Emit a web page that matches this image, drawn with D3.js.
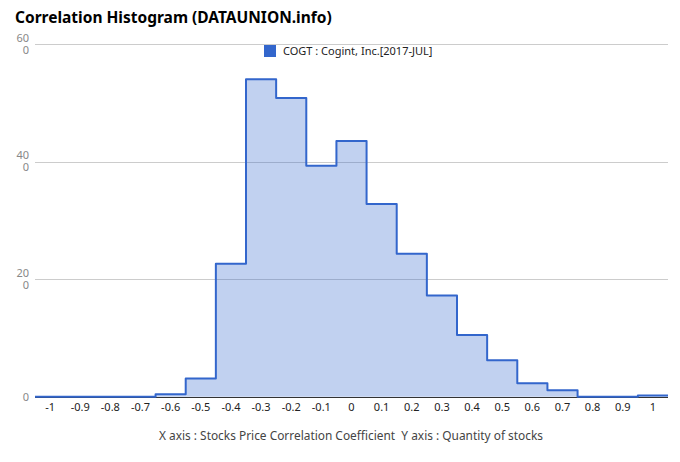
<!DOCTYPE html>
<html>
<head>
<meta charset="utf-8">
<script src="https://cdn.jsdelivr.net/npm/d3@7"></script>
<style>
  html, body { margin: 0; padding: 0; background: #fff; }
  svg { display: block; font-family: "Noto Sans", "Open Sans", Arial, sans-serif; }
</style>
</head>
<body>
<svg id="chart" width="680" height="462"></svg>
<script>
const titleText = "Correlation Histogram (DATAUNION.info)";
const seriesName = "COGT : Cogint, Inc.[2017-JUL]";
const axisTitle = "X axis : Stocks Price Correlation Coefficient  Y axis : Quantity of stocks";
const bins = [-1, -0.9, -0.8, -0.7, -0.6, -0.5, -0.4, -0.3, -0.2, -0.1, 0, 0.1, 0.2, 0.3, 0.4, 0.5, 0.6, 0.7, 0.8, 0.9, 1];
const counts = [0, 0, 0, 0, 4, 31, 226, 540, 508, 393, 435, 328, 243, 172, 105, 62, 23, 11, 0, 0, 2];
const xTickLabels = ["-1", "-0.9", "-0.8", "-0.7", "-0.6", "-0.5", "-0.4", "-0.3", "-0.2", "-0.1", "0", "0.1", "0.2", "0.3", "0.4", "0.5", "0.6", "0.7", "0.8", "0.9", "1"];
const yTicks = [0, 200, 400, 600];

const svg = d3.select("#chart");
const half = 0.05;
const x = d3.scaleLinear().domain([-1 - half, 1 + half]).range([35, 668]);
const y = d3.scaleLinear().domain([0, 600]).range([396.7, 44]);

// title
svg.append("text")
  .attr("x", 15).attr("y", 23)
  .attr("font-size", 15.5).attr("font-weight", "bold").attr("fill", "#000")
  .text(titleText);

// gridlines
svg.append("g").selectAll("line").data(yTicks.filter(d => d > 0)).join("line")
  .attr("x1", x.range()[0]).attr("x2", x.range()[1])
  .attr("y1", d => Math.round(y(d)) + 0.5).attr("y2", d => Math.round(y(d)) + 0.5)
  .attr("stroke", "#cccccc").attr("stroke-width", 1);

// y labels (wrapped like the original)
const yl = svg.append("g").selectAll("text").data(yTicks).join("text")
  .attr("text-anchor", "end").attr("font-size", 11).attr("fill", "#888");
yl.each(function(d) {
  const s = String(d);
  const t = d3.select(this);
  if (s.length > 2) {
    t.append("tspan").attr("x", 29).attr("y", y(d) - 2.5).text(s.slice(0, 2));
    t.append("tspan").attr("x", 29).attr("y", y(d) + 9.5).text(s.slice(2));
  } else {
    t.append("tspan").attr("x", 29).attr("y", y(d) + 4).text(s);
  }
});

// step data
const pts = bins.map((b, i) => [b - half, counts[i]]);
pts.push([bins[bins.length - 1] + half, counts[counts.length - 1]]);

svg.append("path").datum(pts)
  .attr("d", d3.area().curve(d3.curveStepAfter).x(d => x(d[0])).y0(y(0)).y1(d => y(d[1])))
  .attr("fill", "#3366cc").attr("fill-opacity", 0.3);

// baseline axis
svg.append("line")
  .attr("x1", x.range()[0]).attr("x2", x.range()[1])
  .attr("y1", 397.5).attr("y2", 397.5)
  .attr("stroke", "#333").attr("stroke-width", 1);

svg.append("path").datum(pts)
  .attr("d", d3.line().curve(d3.curveStepAfter).x(d => x(d[0])).y(d => y(d[1])))
  .attr("fill", "none").attr("stroke", "#3366cc").attr("stroke-width", 2)
  .attr("stroke-linejoin", "round");

// x tick labels
svg.append("g").selectAll("text").data(bins).join("text")
  .attr("x", d => x(d)).attr("y", 411)
  .attr("text-anchor", "middle").attr("font-size", 11).attr("fill", "#222")
  .text((d, i) => xTickLabels[i]);

// legend
svg.append("rect").attr("x", 264).attr("y", 45).attr("width", 12).attr("height", 12).attr("fill", "#3366cc");
svg.append("text").attr("x", 283).attr("y", 55).attr("font-size", 11).attr("fill", "#222").text(seriesName);

// axis title
svg.append("text").attr("x", 351).attr("y", 440).attr("text-anchor", "middle")
  .attr("font-size", 11.9).attr("fill", "#444").style("white-space", "pre")
  .text(axisTitle);
</script>
</body>
</html>
